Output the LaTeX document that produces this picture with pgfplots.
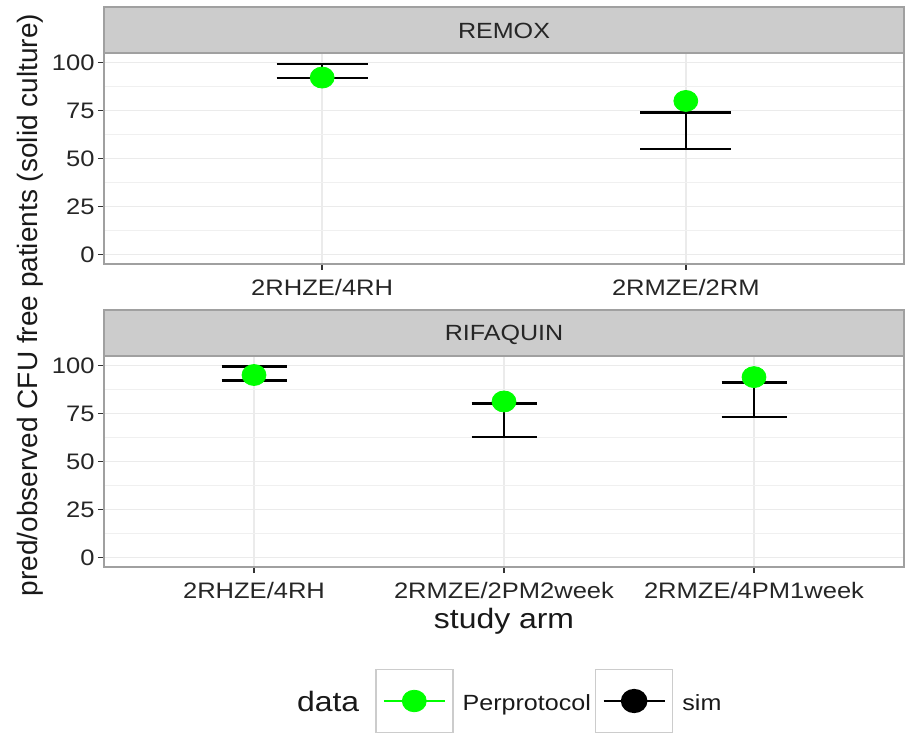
\documentclass[border=0pt]{standalone}
\usepackage{fontspec}
\setmainfont{Liberation Sans}[FakeStretch=1.14]
\newfontfamily\plainsans{Liberation Sans}
\usepackage{pgfplots}
\pgfplotsset{compat=1.18}
\definecolor{ggreen}{HTML}{00FF00}
\definecolor{stripgray}{HTML}{CCCCCC}
\definecolor{bordergray}{HTML}{A0A0A0}
\definecolor{keygray}{HTML}{CCCCCC}
\pgfplotsset{
  myax/.style={
    scale only axis, width=400pt, height=105.5pt,
    ymin=-5, ymax=105,
    ytick={0,25,50,75,100},
    minor ytick={12.5,37.5,62.5,87.5},
    xmajorgrids=true, ymajorgrids=true, yminorgrids=true,
    major grid style={black!8, line width=0.7pt},
    minor grid style={black!6, line width=0.35pt},
    axis line style={bordergray, line width=0.6pt},
    tick align=outside, major tick length=3pt, minor tick length=0pt,
    tick pos=left,
    major tick style={black!80, line width=0.8pt},
    tick label style={font=\fontsize{11.2}{13}\selectfont, text=black!85},
    /pgf/number format/assume math mode=true,
    xticklabel style={anchor=base, yshift=-12.8pt},
    yticklabel style={inner sep=0pt, xshift=-1.5pt},
    unbounded coords=jump,
    clip=false,
  },
  ptstyle/.style={ggreen, only marks, mark=*, mark size=5.25pt,
    mark options={fill=ggreen, draw=ggreen, xscale=1.14}},
  simstyle/.style={black, line width=1.3pt, mark=none},
}
\begin{document}
\begin{tikzpicture}
\useasboundingbox (0pt,0pt) rectangle (452.5pt,-367pt);

% ---------- REMOX panel ----------
\begin{axis}[myax, at={(52pt,-132pt)}, anchor=south west,
  xmin=0.4, xmax=2.6, xtick={1,2}, xticklabels={2RHZE/4RH,2RMZE/2RM}]
% Perprotocol
\addplot[ptstyle] coordinates {(1,92.2) (2,80.0)};
% sim: interval 92.0-99.3 and 55.0-74.1 (caps +-0.125)
\addplot[simstyle] coordinates {
  (0.875,99.3) (1.125,99.3) (1,nan) (1,99.3) (1,92.0) (1,nan) (0.875,92.0) (1.125,92.0) (1,nan)
  (1.875,74.1) (2.125,74.1) (2,nan) (2,74.1) (2,55.0) (2,nan) (1.875,55.0) (2.125,55.0)
};
\end{axis}
\draw[fill=stripgray, draw=bordergray, line width=0.6pt] (52pt,-3.5pt) rectangle (452pt,-26.5pt);
\node[anchor=base, text=black!85, font=\fontsize{11}{13}\selectfont] at (252pt,-19.2pt) {REMOX};

% ---------- RIFAQUIN panel ----------
\begin{axis}[myax, at={(52pt,-283.5pt)}, anchor=south west,
  xmin=0.4, xmax=3.6, xtick={1,2,3},
  xticklabels={2RHZE/4RH,2RMZE/2PM2week,2RMZE/4PM1week},
  legend style={at={(0.33875,-0.635)}, anchor=west, draw=none, fill=none,
    inner sep=0pt, outer sep=0pt, legend columns=-1,
    font=\fontsize{11}{13}\selectfont,
    cells={anchor=base west},
    nodes={inner sep=0pt, text depth=0pt, text=black!90},
    /tikz/every odd column/.append style={column sep=4.5pt},
    /tikz/every even column/.append style={column sep=2pt}}]
\addplot[ptstyle,
  legend image code/.code={
    \draw[keygray, line width=0.8pt] (0pt,-11pt) rectangle (38.5pt,20.5pt);
    \draw[ggreen, line width=1.2pt] (4pt,4.75pt) -- (34.5pt,4.75pt);
    \fill[ggreen] (19.25pt,4.75pt) ellipse [x radius=6pt, y radius=5.4pt];
  }]
  coordinates {(1,95.1) (2,81.3) (3,94.0)};
\addlegendentry{Perprotocol}
% sim: intervals 92.3-99.5, 62.8-80.3, 73.3-91.3
\addplot[simstyle,
  legend image code/.code={
    \draw[keygray, line width=0.8pt] (0pt,-11pt) rectangle (38.5pt,20.5pt);
    \draw[black, line width=1.2pt] (4pt,4.75pt) -- (34.5pt,4.75pt);
    \fill[black] (19.25pt,4.75pt) ellipse [x radius=6pt, y radius=5.4pt];
  }]
  coordinates {
  (0.87,99.5) (1.13,99.5) (1,nan) (1,99.5) (1,92.3) (1,nan) (0.87,92.3) (1.13,92.3) (1,nan)
  (1.87,80.3) (2.13,80.3) (2,nan) (2,80.3) (2,62.8) (2,nan) (1.87,62.8) (2.13,62.8) (2,nan)
  (2.87,91.3) (3.13,91.3) (3,nan) (3,91.3) (3,73.3) (3,nan) (2.87,73.3) (3.13,73.3)
};
\addlegendentry{sim}
\end{axis}
\draw[fill=stripgray, draw=bordergray, line width=0.6pt] (52pt,-155pt) rectangle (452pt,-178pt);
\node[anchor=base, text=black!85, font=\fontsize{11}{13}\selectfont] at (252pt,-170.3pt) {RIFAQUIN};

% ---------- titles ----------
\node[anchor=base, font=\fontsize{14}{16}\selectfont, text=black!90] at (252pt,-314pt) {study arm};
\node[rotate=90, anchor=base, font=\plainsans\fontsize{14}{16}\selectfont, text=black!90]
  at (18.5pt,-152.5pt) {pred/observed CFU free patients (solid culture)};
\node[anchor=base west, font=\fontsize{14}{16}\selectfont, text=black!90] at (145pt,-355.8pt) {data};
\end{tikzpicture}
\end{document}
